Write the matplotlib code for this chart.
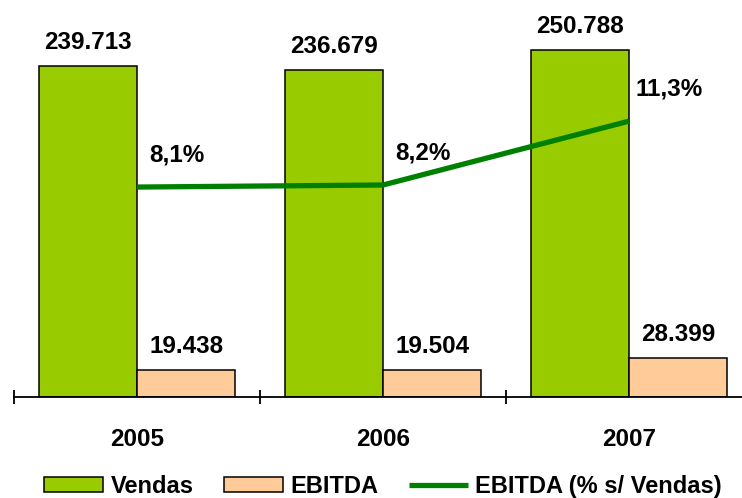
import matplotlib.pyplot as plt
import numpy as np

# data
anos = ["2005", "2006", "2007"]
vendas = [239713, 236679, 250788]
ebitda = [19438, 19504, 28399]
margem = [8.1, 8.2, 11.3]
vendas_lbl = ["239.713", "236.679", "250.788"]
ebitda_lbl = ["19.438", "19.504", "28.399"]
margem_lbl = ["8,1%", "8,2%", "11,3%"]

plt.rcParams["font.family"] = ["Liberation Sans", "DejaVu Sans"]
plt.rcParams["font.weight"] = "bold"

fig = plt.figure(figsize=(7.42, 4.98), dpi=100)
ax = fig.add_axes([14 / 742, 1 - 397 / 498, 738 / 742, 397 / 498])

x = np.arange(len(anos))
w = 0.4
b1 = ax.bar(x - w / 2, vendas, w, color="#99CC00", edgecolor="black", linewidth=1.1, label="Vendas")
b2 = ax.bar(x + w / 2, ebitda, w, color="#FFCC99", edgecolor="black", linewidth=1.1, label="EBITDA")

for rect, t in zip(list(b1) + list(b2), vendas_lbl + ebitda_lbl):
    ax.annotate(t, (rect.get_x() + rect.get_width() / 2, rect.get_height()),
                xytext=(0, 17), textcoords="offset points", ha="center", va="center",
                fontsize=17.5, fontweight="bold")

ax.set_xlim(-0.5, len(anos) - 0.5)
ax.set_ylim(0, 287300)
ax.set_yticks([])
for s in ["left", "right", "top"]:
    ax.spines[s].set_visible(False)
ax.spines["bottom"].set_linewidth(1.3)

# boundaries as major ticks, year labels on minor ticks
ax.set_xticks(np.arange(len(anos) + 1) - 0.5)
ax.set_xticklabels([])
ax.tick_params(axis="x", which="major", direction="inout", length=10, width=1.3)
ax.set_xticks(x, minor=True)
ax.set_xticklabels(anos, minor=True, fontsize=17.5, fontweight="bold")
ax.tick_params(axis="x", which="minor", length=0, pad=22)

ax2 = ax.twinx()
ln, = ax2.plot(x, margem, color="#008000", linewidth=3.8, solid_capstyle="butt",
               label="EBITDA (% s/ Vendas)")
ax2.set_ylim(-2.09, 17.18)
ax2.set_yticks([])
for s in ax2.spines.values():
    s.set_visible(False)
for xi, v, t in zip(x, margem, margem_lbl):
    ax2.annotate(t, (xi, v), xytext=(29, 23), textcoords="offset points",
                 ha="center", va="center", fontsize=17.5, fontweight="bold")

fig.legend(handles=[b1, b2, ln], loc="center", bbox_to_anchor=(383 / 742, 1 - 486 / 498),
           ncol=3, frameon=False, fontsize=17, handlelength=2.5, handleheight=0.6,
           handletextpad=0.3, columnspacing=1.3, borderaxespad=0)

fig.savefig("out.png", dpi=100)
